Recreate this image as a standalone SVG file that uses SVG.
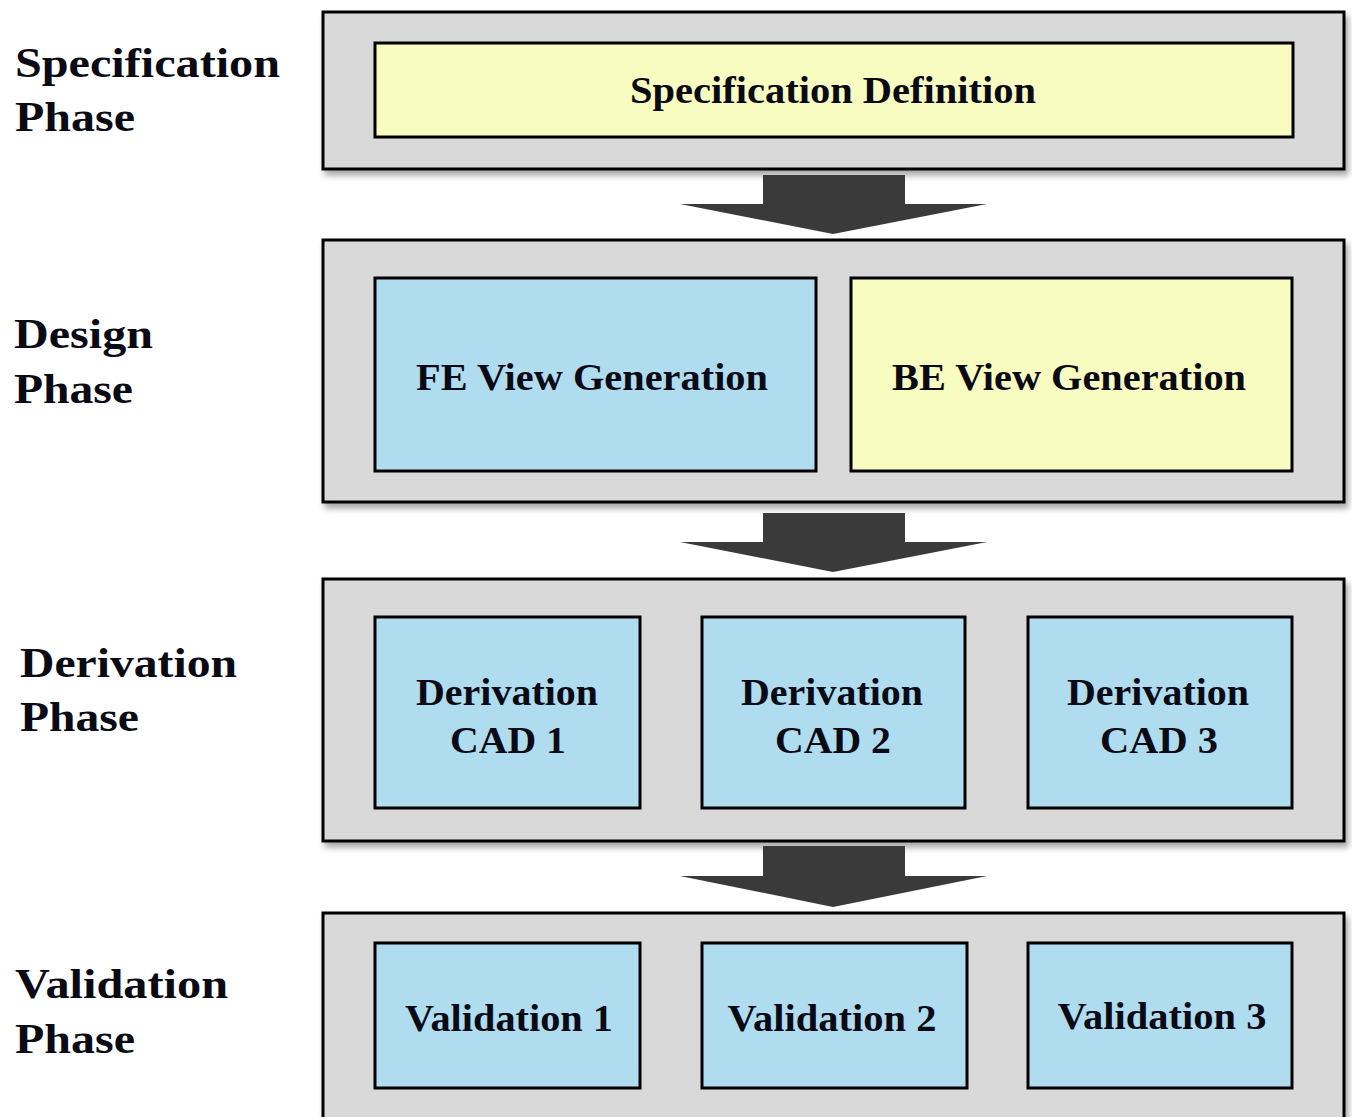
<svg xmlns="http://www.w3.org/2000/svg" width="1352" height="1117" viewBox="0 0 1352 1117">
<style>
.phase{fill:#d9d9d9;stroke:#000;stroke-width:3}
.blue{fill:#b0dcf0;stroke:#000;stroke-width:3}
.yel{fill:#f9fcc0;stroke:#000;stroke-width:3}
text{font-family:"Liberation Serif","Times New Roman",serif;font-weight:bold;fill:#0a0a14}
.lbl{font-size:42px}
.in{font-size:37px;text-anchor:middle}
.arrow{fill:#3a3a3a}
</style>
<defs>
<filter id="sh" x="-5%" y="-10%" width="110%" height="130%">
<feDropShadow dx="3" dy="5" stdDeviation="3" flood-color="#000" flood-opacity="0.35"/>
</filter>
</defs>
<g id="labels">
<text class="lbl" x="15" y="77" textLength="265" lengthAdjust="spacingAndGlyphs">Specification</text>
<text class="lbl" x="15" y="131" textLength="120" lengthAdjust="spacingAndGlyphs">Phase</text>
<text class="lbl" x="14" y="348" textLength="139" lengthAdjust="spacingAndGlyphs">Design</text>
<text class="lbl" x="14" y="403" textLength="119" lengthAdjust="spacingAndGlyphs">Phase</text>
<text class="lbl" x="20" y="677" textLength="217" lengthAdjust="spacingAndGlyphs">Derivation</text>
<text class="lbl" x="20" y="731" textLength="119" lengthAdjust="spacingAndGlyphs">Phase</text>
<text class="lbl" x="15" y="998" textLength="213" lengthAdjust="spacingAndGlyphs">Validation</text>
<text class="lbl" x="15" y="1053" textLength="120" lengthAdjust="spacingAndGlyphs">Phase</text>
</g>
<g id="spec-phase">
<rect class="phase" x="323" y="12" width="1021" height="157" filter="url(#sh)"/>
<g id="spec-def">
<rect class="yel" x="375" y="43" width="918" height="94"/>
<text class="in" x="833" y="103" textLength="406" lengthAdjust="spacingAndGlyphs">Specification Definition</text>
</g>
</g>
<g id="design-phase">
<rect class="phase" x="323" y="240" width="1021" height="262" filter="url(#sh)"/>
<g id="fe-view">
<rect class="blue" x="375" y="278" width="441" height="193"/>
<text class="in" x="592" y="390" textLength="352" lengthAdjust="spacingAndGlyphs">FE View Generation</text>
</g>
<g id="be-view">
<rect class="yel" x="851" y="278" width="441" height="193"/>
<text class="in" x="1069" y="390" textLength="354" lengthAdjust="spacingAndGlyphs">BE View Generation</text>
</g>
</g>
<g id="derivation-phase">
<rect class="phase" x="323" y="579" width="1021" height="262" filter="url(#sh)"/>
<g id="cad1">
<rect class="blue" x="375" y="617" width="265" height="191"/>
<text class="in" x="507" y="705" textLength="182" lengthAdjust="spacingAndGlyphs">Derivation</text>
<text class="in" x="508" y="753" textLength="116" lengthAdjust="spacingAndGlyphs">CAD 1</text>
</g>
<g id="cad2">
<rect class="blue" x="702" y="617" width="263" height="191"/>
<text class="in" x="832" y="705" textLength="182" lengthAdjust="spacingAndGlyphs">Derivation</text>
<text class="in" x="833" y="753" textLength="116" lengthAdjust="spacingAndGlyphs">CAD 2</text>
</g>
<g id="cad3">
<rect class="blue" x="1028" y="617" width="264" height="191"/>
<text class="in" x="1158" y="705" textLength="182" lengthAdjust="spacingAndGlyphs">Derivation</text>
<text class="in" x="1159" y="753" textLength="118" lengthAdjust="spacingAndGlyphs">CAD 3</text>
</g>
</g>
<g id="validation-phase">
<rect class="phase" x="323" y="913" width="1021" height="230" filter="url(#sh)"/>
<g id="val1">
<rect class="blue" x="375" y="943" width="265" height="145"/>
<text class="in" x="509" y="1031" textLength="208" lengthAdjust="spacingAndGlyphs">Validation 1</text>
</g>
<g id="val2">
<rect class="blue" x="702" y="943" width="265" height="145"/>
<text class="in" x="832" y="1031" textLength="209" lengthAdjust="spacingAndGlyphs">Validation 2</text>
</g>
<g id="val3">
<rect class="blue" x="1028" y="943" width="264" height="145"/>
<text class="in" x="1162" y="1029" textLength="209" lengthAdjust="spacingAndGlyphs">Validation 3</text>
</g>
</g>
<g id="connectors">
<polygon class="arrow" points="763,175 905,175 905,204 987,204 833,234 680,204 763,204"/>
<polygon class="arrow" points="763,513 905,513 905,542 987,542 833,572 680,542 763,542"/>
<polygon class="arrow" points="763,846 905,846 905,876 987,876 833,907 680,876 763,876"/>
</g>
</svg>
